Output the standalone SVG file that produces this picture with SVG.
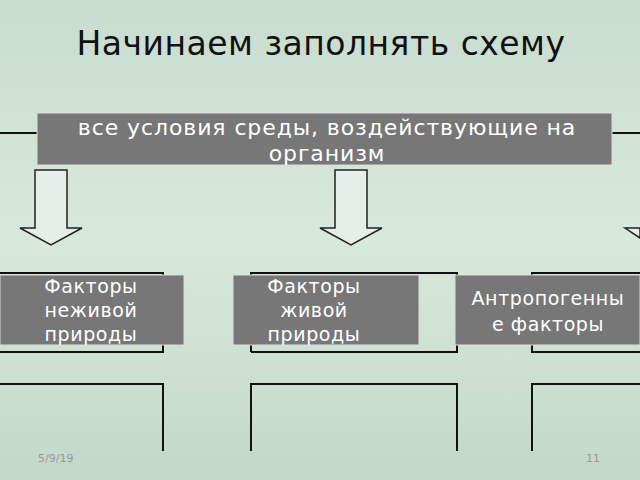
<svg xmlns="http://www.w3.org/2000/svg" width="640" height="480" viewBox="0 0 640 480">
<defs>
<linearGradient id="bg" x1="0" y1="0" x2="0" y2="1">
<stop offset="0" stop-color="#c9dcd0"/><stop offset="0.5" stop-color="#d8e8dc"/><stop offset="1" stop-color="#c3d8c9"/>
</linearGradient>
</defs>
<style>
.box{fill:#777777;stroke:#dcdcdc;stroke-width:1}
.frame{fill:none;stroke:#111;stroke-width:2}
.arrow{fill:#e6eee8;stroke:#222;stroke-width:1.5}
.t{font-family:"DejaVu Sans",sans-serif;fill:#fff;font-size:19px;letter-spacing:0.6px;text-anchor:middle}
.tt{font-family:"DejaVu Sans",sans-serif;fill:#fff;font-size:22px;letter-spacing:0.9px;text-anchor:middle}
</style>
<rect width="640" height="480" fill="url(#bg)"/>
<text x="321" y="55" font-family="DejaVu Sans,sans-serif" font-size="33" letter-spacing="0.5" fill="#111" text-anchor="middle">Начинаем заполнять схему</text>
<g id="connectors">
<path class="frame" d="M0 133H37M612 133H640"/>
<path class="frame" d="M0 273H163V352H0"/>
<path class="frame" d="M251 352V273H457V352H251"/>
<path class="frame" d="M640 273H532V352H640"/>
<path class="frame" d="M0 384H163V451"/>
<path class="frame" d="M251 451V384H457V451"/>
<path class="frame" d="M640 384H532V451"/>
<path class="arrow" d="M35 170H67V228H82L51 245L20 228H35Z"/>
<path class="arrow" d="M335 170H367V228H382L351 245L320 228H335Z"/>
<path class="arrow" d="M640 228L625 228L640 238Z"/>
</g>
<g id="top"><rect class="box" x="37" y="113" width="575" height="52"/>
<text class="tt" x="327" y="135">все условия среды, воздействующие на</text>
<text class="tt" x="327" y="161">организм</text></g>
<g id="n1"><rect class="box" x="0" y="275" width="184" height="70"/>
<text class="t" x="91" y="293">Факторы</text><text class="t" x="91" y="317">неживой</text><text class="t" x="91" y="341">природы</text></g>
<g id="n2"><rect class="box" x="233" y="275" width="186" height="70"/>
<text class="t" x="314" y="293">Факторы</text><text class="t" x="314" y="317">живой</text><text class="t" x="314" y="341">природы</text></g>
<g id="n3"><rect class="box" x="455" y="275" width="185" height="70"/>
<text class="t" x="548" y="305">Антропогенны</text><text class="t" x="548" y="331">е факторы</text></g>
<text x="38" y="462" font-family="DejaVu Sans,sans-serif" font-size="11" fill="#999">5/9/19</text>
<text x="600" y="462" font-family="DejaVu Sans,sans-serif" font-size="11" fill="#999" text-anchor="end">11</text>
</svg>
